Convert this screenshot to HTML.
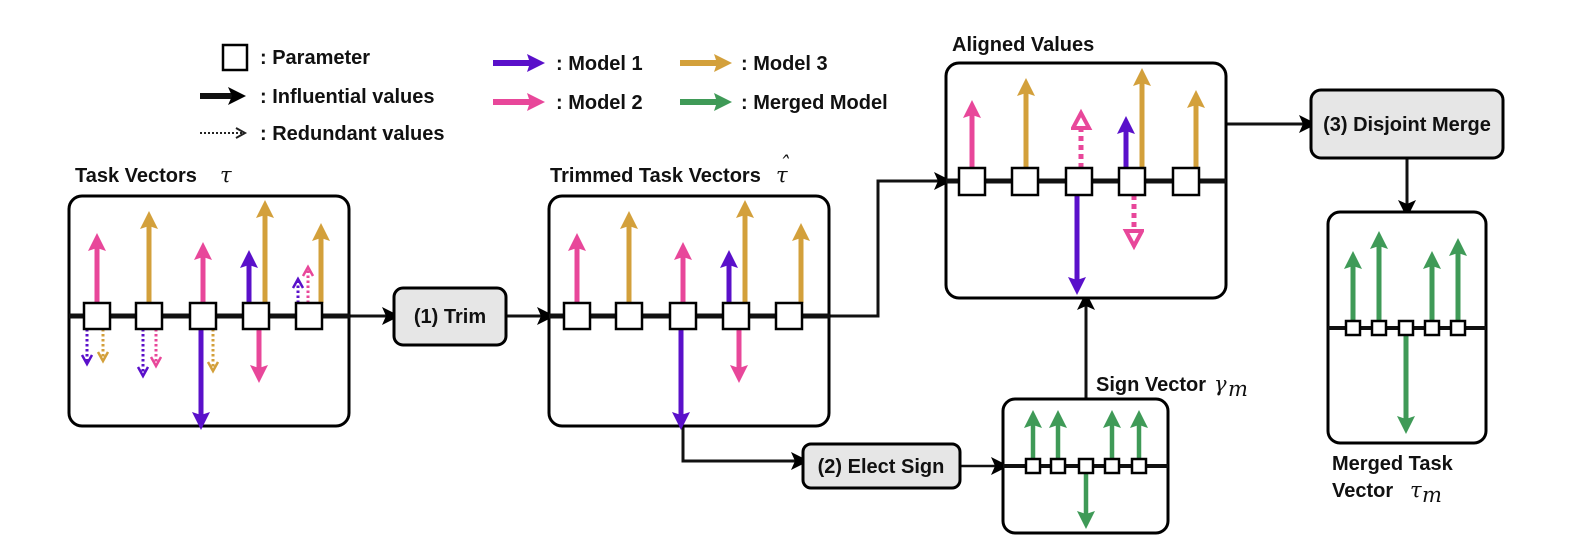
<!DOCTYPE html>
<html><head><meta charset="utf-8"><style>
html,body{margin:0;padding:0;background:#fff;}
svg{display:block;}
text{font-family:"Liberation Sans",sans-serif;font-weight:bold;font-size:20px;fill:#111;}
.m{font-family:"DejaVu Serif","Liberation Serif",serif;font-style:italic;font-weight:normal;font-size:21px;}
</style></head><body>
<svg width="1586" height="556" viewBox="0 0 1586 556" xmlns="http://www.w3.org/2000/svg">
<defs>
<marker id="hP" markerUnits="userSpaceOnUse" markerWidth="20" markerHeight="20" refX="8" refY="9" orient="auto"><path d="M0,0 L18,9 L0,18 L3,9z" fill="#E8479A"/></marker>
<marker id="hG" markerUnits="userSpaceOnUse" markerWidth="20" markerHeight="20" refX="8" refY="9" orient="auto"><path d="M0,0 L18,9 L0,18 L3,9z" fill="#D3A03B"/></marker>
<marker id="hU" markerUnits="userSpaceOnUse" markerWidth="20" markerHeight="20" refX="8" refY="9" orient="auto"><path d="M0,0 L18,9 L0,18 L3,9z" fill="#5A10CA"/></marker>
<marker id="hN" markerUnits="userSpaceOnUse" markerWidth="20" markerHeight="20" refX="8" refY="9" orient="auto"><path d="M0,0 L18,9 L0,18 L3,9z" fill="#3F9A57"/></marker>
<marker id="hK" markerUnits="userSpaceOnUse" markerWidth="20" markerHeight="20" refX="10" refY="9" orient="auto"><path d="M0,0 L18,9 L0,18 L4,9z" fill="#000"/></marker>
<marker id="dP" markerUnits="userSpaceOnUse" markerWidth="14" markerHeight="14" refX="9" refY="6" orient="auto"><path d="M1,1 L10,6 L1,11" fill="none" stroke="#E8479A" stroke-width="2.5"/></marker>
<marker id="dG" markerUnits="userSpaceOnUse" markerWidth="14" markerHeight="14" refX="9" refY="6" orient="auto"><path d="M1,1 L10,6 L1,11" fill="none" stroke="#D3A03B" stroke-width="2.5"/></marker>
<marker id="dU" markerUnits="userSpaceOnUse" markerWidth="14" markerHeight="14" refX="9" refY="6" orient="auto"><path d="M1,1 L10,6 L1,11" fill="none" stroke="#5A10CA" stroke-width="2.5"/></marker>
<marker id="dK" markerUnits="userSpaceOnUse" markerWidth="14" markerHeight="14" refX="9" refY="6" orient="auto"><path d="M1,1 L10,6 L1,11" fill="none" stroke="#222" stroke-width="2"/></marker>
<marker id="dP2" markerUnits="userSpaceOnUse" markerWidth="22" markerHeight="22" refX="12" refY="10" orient="auto"><path d="M2,2 L17,10 L2,18z" fill="#fff" stroke="#E8479A" stroke-width="4"/></marker>
</defs>

<!-- Legend -->
<rect x="223" y="45" width="24" height="25" fill="#fff" stroke="#000" stroke-width="2.5"/>
<text x="260" y="64">: Parameter</text>
<line x1="200" y1="96" x2="238" y2="96" stroke="#111" stroke-width="6" marker-end="url(#hK)"/>
<text x="260" y="103">: Influential values</text>
<line x1="200" y1="133" x2="244" y2="133" stroke="#222" stroke-width="2" stroke-dasharray="2 2" marker-end="url(#dK)"/>
<text x="260" y="140">: Redundant values</text>
<line x1="493" y1="63" x2="535" y2="63" stroke="#5A10CA" stroke-width="6" marker-end="url(#hU)"/>
<text x="556" y="70">: Model 1</text>
<line x1="493" y1="102" x2="535" y2="102" stroke="#E8479A" stroke-width="6" marker-end="url(#hP)"/>
<text x="556" y="109">: Model 2</text>
<line x1="680" y1="63" x2="722" y2="63" stroke="#D3A03B" stroke-width="6" marker-end="url(#hG)"/>
<text x="741" y="70">: Model 3</text>
<line x1="680" y1="102" x2="722" y2="102" stroke="#3F9A57" stroke-width="6" marker-end="url(#hN)"/>
<text x="741" y="109">: Merged Model</text>

<!-- Labels -->
<text x="75" y="182">Task Vectors</text><text class="m" x="220" y="182">τ</text>
<text x="550" y="182">Trimmed Task Vectors</text><text class="m" x="776" y="182">τ</text><text class="m" x="779" y="172" font-size="16">ˆ</text>
<text x="1096" y="391">Sign Vector</text><text class="m" x="1214" y="391">γ</text><text class="m" x="1228" y="396" font-size="15">m</text>
<text x="1332" y="470">Merged Task</text>
<text x="1332" y="497">Vector</text><text class="m" x="1410" y="497">τ</text><text class="m" x="1422" y="502" font-size="15">m</text>
<text x="952" y="51">Aligned Values</text>

<!-- Connectors -->
<line x1="350" y1="316" x2="392" y2="316" stroke="#111" stroke-width="3" marker-end="url(#hK)"/>
<line x1="506" y1="316" x2="547" y2="316" stroke="#111" stroke-width="3" marker-end="url(#hK)"/>
<polyline points="828,316 878,316 878,181 944,181" fill="none" stroke="#111" stroke-width="3" marker-end="url(#hK)"/>
<polyline points="683,425 683,461 801,461" fill="none" stroke="#111" stroke-width="3" marker-end="url(#hK)"/>
<line x1="960" y1="466" x2="1001" y2="466" stroke="#111" stroke-width="2.5" marker-end="url(#hK)"/>
<line x1="1086" y1="399" x2="1086" y2="300" stroke="#111" stroke-width="3" marker-end="url(#hK)"/>
<line x1="1226" y1="124" x2="1309" y2="124" stroke="#111" stroke-width="3" marker-end="url(#hK)"/>
<line x1="1407" y1="158" x2="1407" y2="210" stroke="#111" stroke-width="3" marker-end="url(#hK)"/>

<!-- Process boxes -->
<rect x="394" y="288" width="112" height="57" rx="9" fill="#e6e6e6" stroke="#000" stroke-width="3"/>
<text x="450" y="323" text-anchor="middle">(1) Trim</text>
<rect x="803" y="444" width="157" height="44" rx="8" fill="#e6e6e6" stroke="#000" stroke-width="3"/>
<text x="881" y="473" text-anchor="middle">(2) Elect Sign</text>
<rect x="1311" y="90" width="192" height="68" rx="10" fill="#e6e6e6" stroke="#000" stroke-width="3"/>
<text x="1407" y="131" text-anchor="middle">(3) Disjoint Merge</text>

<!-- Box 1 -->
<rect x="69" y="196" width="280" height="230" rx="13" fill="#fff" stroke="#000" stroke-width="3"/>
<line x1="69" y1="316" x2="350" y2="316" stroke="#111" stroke-width="5"/>
<g stroke-width="5">
<line x1="97" y1="303" x2="97" y2="243" stroke="#E8479A" marker-end="url(#hP)"/>
<line x1="149" y1="303" x2="149" y2="221" stroke="#D3A03B" marker-end="url(#hG)"/>
<line x1="203" y1="303" x2="203" y2="252" stroke="#E8479A" marker-end="url(#hP)"/>
<line x1="201" y1="329" x2="201" y2="420" stroke="#5A10CA" marker-end="url(#hU)"/>
<line x1="249" y1="303" x2="249" y2="260" stroke="#5A10CA" marker-end="url(#hU)"/>
<line x1="265" y1="303" x2="265" y2="210" stroke="#D3A03B" marker-end="url(#hG)"/>
<line x1="259" y1="329" x2="259" y2="373" stroke="#E8479A" marker-end="url(#hP)"/>
<line x1="321" y1="303" x2="321" y2="233" stroke="#D3A03B" marker-end="url(#hG)"/>
</g>
<g stroke-width="3" stroke-dasharray="2.5 2.5">
<line x1="87" y1="329" x2="87" y2="363" stroke="#5A10CA" marker-end="url(#dU)"/>
<line x1="103" y1="329" x2="103" y2="360" stroke="#D3A03B" marker-end="url(#dG)"/>
<line x1="143" y1="329" x2="143" y2="375" stroke="#5A10CA" marker-end="url(#dU)"/>
<line x1="156" y1="329" x2="156" y2="365" stroke="#E8479A" marker-end="url(#dP)"/>
<line x1="213" y1="329" x2="213" y2="370" stroke="#D3A03B" marker-end="url(#dG)"/>
<line x1="298" y1="303" x2="298" y2="280" stroke="#5A10CA" marker-end="url(#dU)"/>
<line x1="308" y1="303" x2="308" y2="268" stroke="#E8479A" marker-end="url(#dP)"/>
</g>
<g fill="#fff" stroke="#000" stroke-width="2.5">
<rect x="84" y="303" width="26" height="26"/><rect x="136" y="303" width="26" height="26"/><rect x="190" y="303" width="26" height="26"/><rect x="243" y="303" width="26" height="26"/><rect x="296" y="303" width="26" height="26"/>
</g>

<!-- Box 2 -->
<rect x="549" y="196" width="280" height="230" rx="13" fill="#fff" stroke="#000" stroke-width="3"/>
<line x1="549" y1="316" x2="830" y2="316" stroke="#111" stroke-width="5"/>
<g stroke-width="5">
<line x1="577" y1="303" x2="577" y2="243" stroke="#E8479A" marker-end="url(#hP)"/>
<line x1="629" y1="303" x2="629" y2="221" stroke="#D3A03B" marker-end="url(#hG)"/>
<line x1="683" y1="303" x2="683" y2="252" stroke="#E8479A" marker-end="url(#hP)"/>
<line x1="681" y1="329" x2="681" y2="420" stroke="#5A10CA" marker-end="url(#hU)"/>
<line x1="729" y1="303" x2="729" y2="260" stroke="#5A10CA" marker-end="url(#hU)"/>
<line x1="745" y1="303" x2="745" y2="210" stroke="#D3A03B" marker-end="url(#hG)"/>
<line x1="739" y1="329" x2="739" y2="373" stroke="#E8479A" marker-end="url(#hP)"/>
<line x1="801" y1="303" x2="801" y2="233" stroke="#D3A03B" marker-end="url(#hG)"/>
</g>
<g fill="#fff" stroke="#000" stroke-width="2.5">
<rect x="564" y="303" width="26" height="26"/><rect x="616" y="303" width="26" height="26"/><rect x="670" y="303" width="26" height="26"/><rect x="723" y="303" width="26" height="26"/><rect x="776" y="303" width="26" height="26"/>
</g>

<!-- Aligned box -->
<rect x="946" y="63" width="280" height="235" rx="13" fill="#fff" stroke="#000" stroke-width="3"/>
<line x1="946" y1="181" x2="1226" y2="181" stroke="#111" stroke-width="5"/>
<g stroke-width="5">
<line x1="972" y1="168" x2="972" y2="110" stroke="#E8479A" marker-end="url(#hP)"/>
<line x1="1026" y1="168" x2="1026" y2="88" stroke="#D3A03B" marker-end="url(#hG)"/>
<line x1="1077" y1="195" x2="1077" y2="285" stroke="#5A10CA" marker-end="url(#hU)"/>
<line x1="1126" y1="168" x2="1126" y2="126" stroke="#5A10CA" marker-end="url(#hU)"/>
<line x1="1142" y1="168" x2="1142" y2="78" stroke="#D3A03B" marker-end="url(#hG)"/>
<line x1="1196" y1="168" x2="1196" y2="100" stroke="#D3A03B" marker-end="url(#hG)"/>
<line x1="1081" y1="168" x2="1081" y2="118" stroke="#E8479A" stroke-dasharray="5 4" marker-end="url(#dP2)"/>
<line x1="1134" y1="195" x2="1134" y2="241" stroke="#E8479A" stroke-dasharray="5 4" marker-end="url(#dP2)"/>
</g>
<g fill="#fff" stroke="#000" stroke-width="2.5">
<rect x="959" y="168" width="26" height="27"/><rect x="1012" y="168" width="26" height="27"/><rect x="1066" y="168" width="26" height="27"/><rect x="1119" y="168" width="26" height="27"/><rect x="1173" y="168" width="26" height="27"/>
</g>

<!-- Sign box -->
<rect x="1003" y="399" width="165" height="134" rx="12" fill="#fff" stroke="#000" stroke-width="3"/>
<line x1="1003" y1="466" x2="1168" y2="466" stroke="#111" stroke-width="4"/>
<g stroke-width="4.5">
<line x1="1033" y1="459" x2="1033" y2="420" stroke="#3F9A57" marker-end="url(#hN)"/>
<line x1="1058" y1="459" x2="1058" y2="420" stroke="#3F9A57" marker-end="url(#hN)"/>
<line x1="1112" y1="459" x2="1112" y2="420" stroke="#3F9A57" marker-end="url(#hN)"/>
<line x1="1139" y1="459" x2="1139" y2="420" stroke="#3F9A57" marker-end="url(#hN)"/>
<line x1="1086" y1="473" x2="1086" y2="519" stroke="#3F9A57" marker-end="url(#hN)"/>
</g>
<g fill="#fff" stroke="#000" stroke-width="2.5">
<rect x="1026" y="459" width="14" height="14"/><rect x="1051" y="459" width="14" height="14"/><rect x="1079" y="459" width="14" height="14"/><rect x="1105" y="459" width="14" height="14"/><rect x="1132" y="459" width="14" height="14"/>
</g>

<!-- Merged box -->
<rect x="1328" y="212" width="158" height="231" rx="12" fill="#fff" stroke="#000" stroke-width="3"/>
<line x1="1328" y1="328" x2="1486" y2="328" stroke="#111" stroke-width="4"/>
<g stroke-width="5">
<line x1="1353" y1="321" x2="1353" y2="261" stroke="#3F9A57" marker-end="url(#hN)"/>
<line x1="1379" y1="321" x2="1379" y2="241" stroke="#3F9A57" marker-end="url(#hN)"/>
<line x1="1432" y1="321" x2="1432" y2="261" stroke="#3F9A57" marker-end="url(#hN)"/>
<line x1="1458" y1="321" x2="1458" y2="248" stroke="#3F9A57" marker-end="url(#hN)"/>
<line x1="1406" y1="335" x2="1406" y2="424" stroke="#3F9A57" marker-end="url(#hN)"/>
</g>
<g fill="#fff" stroke="#000" stroke-width="2.5">
<rect x="1346" y="321" width="14" height="14"/><rect x="1372" y="321" width="14" height="14"/><rect x="1399" y="321" width="14" height="14"/><rect x="1425" y="321" width="14" height="14"/><rect x="1451" y="321" width="14" height="14"/>
</g>
</svg>
</body></html>
